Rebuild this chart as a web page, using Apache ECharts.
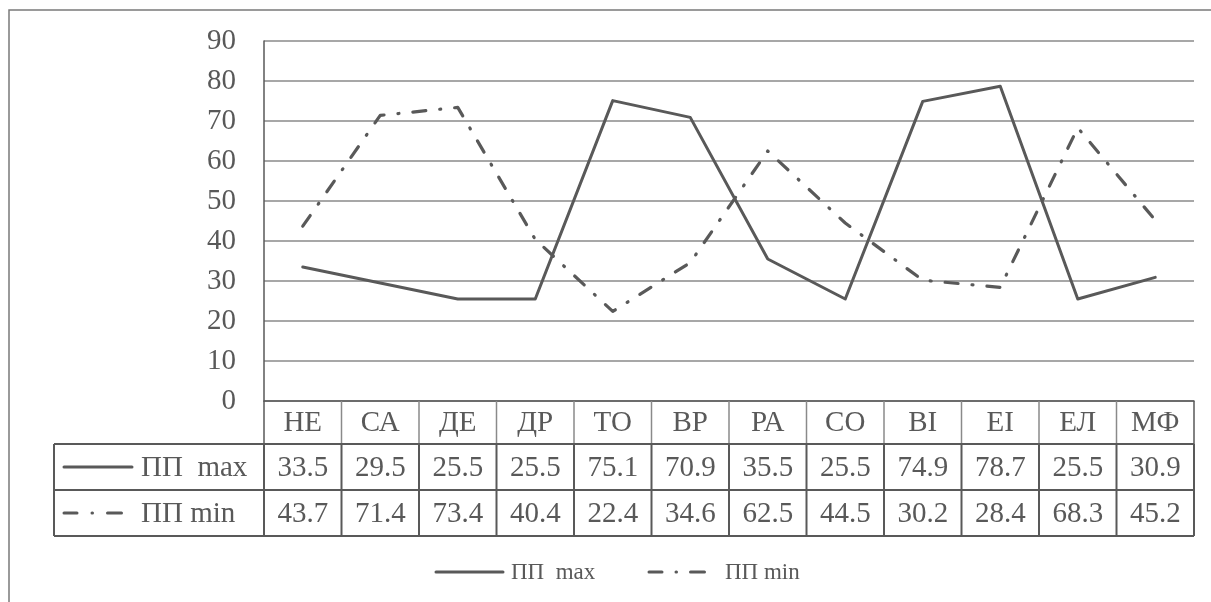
<!DOCTYPE html>
<html><head><meta charset="utf-8">
<script src="https://cdn.jsdelivr.net/npm/echarts@6/dist/echarts.min.js"></script>
<style>html,body{margin:0;padding:0;background:#fff}#c{width:1211px;height:602px}</style>
</head><body><div id="c"></div>
<script>
const categories = ["НЕ","СА","ДЕ","ДР","ТО","ВР","РА","СО","ВІ","ЕІ","ЕЛ","МФ"];
const seriesNames = ["ПП  max","ПП min"];
const ppMax = [33.5,29.5,25.5,25.5,75.1,70.9,35.5,25.5,74.9,78.7,25.5,30.9];
const ppMin = [43.7,71.4,73.4,40.4,22.4,34.6,62.5,44.5,30.2,28.4,68.3,45.2];
const yMin = 0, yMax = 90, yStep = 10;

const FONT = '"Liberation Serif","Times New Roman",serif';
const INK = '#595959';
const DASHDOT = [13, 14, 1, 14];

const chart = echarts.init(document.getElementById('c'), null, {renderer: 'canvas'});
const GRID = {left: 264, right: 17, top: 41, bottom: 201};

chart.setOption({
  animation: false,
  backgroundColor: '#fff',
  grid: GRID,
  xAxis: {
    type: 'category', data: categories, boundaryGap: true,
    axisLine: {show: true, lineStyle: {color: INK, width: 1.5}},
    axisTick: {show: false}, axisLabel: {show: false}, splitLine: {show: false}
  },
  yAxis: {
    type: 'value', min: yMin, max: yMax, interval: yStep,
    axisLine: {show: true, lineStyle: {color: INK, width: 1.5}},
    axisTick: {show: false},
    axisLabel: {color: INK, fontFamily: FONT, fontSize: 29, margin: 28},
    splitLine: {show: true, lineStyle: {color: '#8a8a8a', width: 1.5}}
  },
  series: [
    {name: seriesNames[0], type: 'line', data: ppMax, symbol: 'none',
     lineStyle: {color: INK, width: 3, cap: 'round', join: 'round'}, itemStyle: {color: INK}},
    {name: seriesNames[1], type: 'line', data: ppMin, symbol: 'none',
     lineStyle: {color: INK, width: 3.2, type: DASHDOT, cap: 'round', join: 'round'}, itemStyle: {color: INK}}
  ]
});

// data table built from the arrays, positioned via the axis scale
const centers = categories.map((c, i) => chart.convertToPixel({xAxisIndex: 0}, i));
const bw = centers[1] - centers[0];
const x0 = centers[0] - bw / 2;
const x1 = centers[centers.length - 1] + bw / 2;
const yTop = chart.convertToPixel({yAxisIndex: 0}, yMin);
const rowH = [43, 46, 46];
const yH = yTop + rowH[0], yR1 = yH + rowH[1], yR2 = yR1 + rowH[2];
const labelLeft = 54;

const g = [];
function line(xa, ya, xb, yb, color, w, dash) {
  g.push({type: 'line', silent: true, z: 10,
    shape: {x1: xa, y1: ya, x2: xb, y2: yb},
    style: {stroke: color, lineWidth: w, lineCap: dash ? 'round' : 'butt', lineDash: dash || null}});
}
function txt(t, x, y, align, size) {
  g.push({type: 'text', silent: true, z: 11,
    style: {text: t, x: x, y: y, fill: INK, font: (size || 29) + 'px ' + FONT,
      textAlign: align || 'center', textVerticalAlign: 'middle'}});
}
// outer chart border
g.push({type: 'rect', silent: true, z: 0, shape: {x: 9, y: 10, width: 1400, height: 800},
  style: {fill: null, stroke: '#7a7a7a', lineWidth: 1.5}});
// table grid
for (let i = 0; i <= categories.length; i++) {
  const x = x0 + i * bw;
  line(x, yTop, x, yH, (i === 0 || i === categories.length) ? INK : '#8a8a8a', 1.5);
  line(x, yH, x, yR2, INK, 2);
}
line(labelLeft, yH, x1, yH, INK, 2);
line(labelLeft, yR1, x1, yR1, INK, 2);
line(labelLeft, yR2, x1, yR2, INK, 2);
line(labelLeft, yH, labelLeft, yR2, INK, 2);

categories.forEach((c, i) => {
  txt(c, centers[i], (yTop + yH) / 2 + 1);
  txt(ppMax[i].toFixed(1), centers[i], (yH + yR1) / 2 + 1);
  txt(ppMin[i].toFixed(1), centers[i], (yR1 + yR2) / 2 + 1);
});
// row keys
const r1 = (yH + yR1) / 2, r2 = (yR1 + yR2) / 2;
line(64, r1, 132, r1, INK, 3, [100]);
line(64, r2, 122, r2, INK, 3, [13, 15, 0.5, 15, 14, 100]);
txt(seriesNames[0], 141, r1 + 1, 'left');
txt(seriesNames[1], 141, r2 + 1, 'left');

// legend
const ly = 572;
line(436, ly, 503, ly, INK, 3, [100]);
txt(seriesNames[0], 511, ly + 1, 'left', 23);
line(649, ly, 706, ly, INK, 3, [13, 14, 0.5, 14, 14, 100]);
txt(seriesNames[1], 725, ly + 1, 'left', 23);

chart.setOption({graphic: {elements: g}});
</script></body></html>
